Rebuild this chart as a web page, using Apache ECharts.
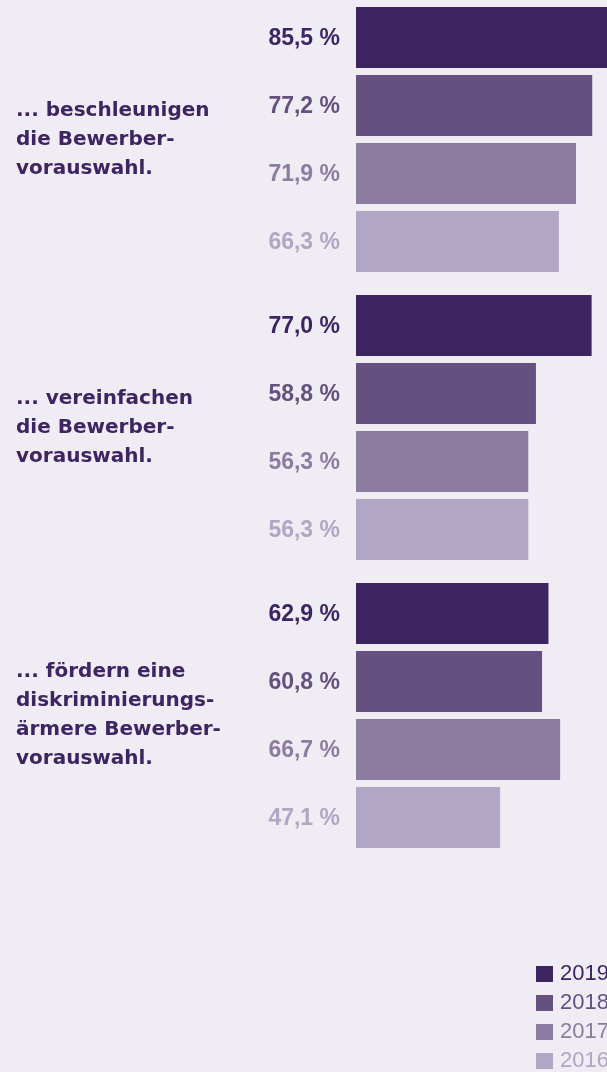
<!DOCTYPE html>
<html>
<head>
<meta charset="utf-8">
<script src="https://cdn.jsdelivr.net/npm/echarts@6/dist/echarts.min.js"></script>
<style>
  html, body { margin: 0; padding: 0; background: #efecf3; }
  #chart { width: 607px; height: 1072px; }
</style>
</head>
<body>
<div id="chart"></div>
<script>
// Kategorien (oben nach unten)
var categories = [
  '... beschleunigen\ndie Bewerber-\nvorauswahl.',
  '... vereinfachen\ndie Bewerber-\nvorauswahl.',
  '... fördern eine\ndiskriminierungs-\närmere Bewerber-\nvorauswahl.'
]
var years = ['2019', '2018', '2017', '2016']
var values2019 = [85.5, 77.0, 62.9]
var values2018 = [77.2, 58.8, 60.8]
var values2017 = [71.9, 56.3, 66.7]
var values2016 = [66.3, 56.3, 47.1]
var colors = ['#3d2562', '#64517f', '#8c7ca0', '#b1a6c3']

var chart = echarts.init(document.getElementById('chart'))

function getSeries() {
  var dataArr = [values2019, values2018, values2017, values2016]
  return years.map(function(y, i) {
    return {
      name: y,
      type: 'bar',
      data: dataArr[i],
      barWidth: 61,
      barGap: '11.5%',
      itemStyle: { color: colors[i] },
      label: {
        show: true,
        position: 'left',
        distance: 16,
        offset: [0, 1],
        color: colors[i],
        fontFamily: 'Liberation Sans',
        fontWeight: 'bold',
        fontSize: 23,
        formatter: function(p) {
          return p.value.toFixed(1).replace('.', ',') + ' %'
        }
      },
      animation: false
    }
  })
}

chart.setOption({
  backgroundColor: '#efecf3',
  grid: {
    left: 356,
    top: -4.5,
    width: 306,
    height: 864,
    outerBoundsMode: 'none'
  },
  xAxis: {
    type: 'value',
    min: 0,
    max: 100,
    show: false
  },
  yAxis: {
    type: 'category',
    data: categories,
    inverse: true,
    axisLine: { show: false },
    axisTick: { show: false },
    axisLabel: {
      align: 'left',
      margin: 340,
      color: '#3d2562',
      fontFamily: 'DejaVu Sans',
      fontWeight: 'bold',
      fontSize: 20,
      lineHeight: 29
    }
  },
  legend: {
    orient: 'vertical',
    left: 536,
    top: 963,
    height: 200,
    padding: 0,
    icon: 'rect',
    itemWidth: 17,
    itemHeight: 16,
    itemGap: 7,
    textStyle: { fontFamily: 'Liberation Sans', fontSize: 22, padding: [0, 0, 0, 2] },
    data: years.map(function(y, i) {
      return { name: y, textStyle: { color: colors[i] } }
    })
  },
  series: getSeries()
})
</script>
</body>
</html>
